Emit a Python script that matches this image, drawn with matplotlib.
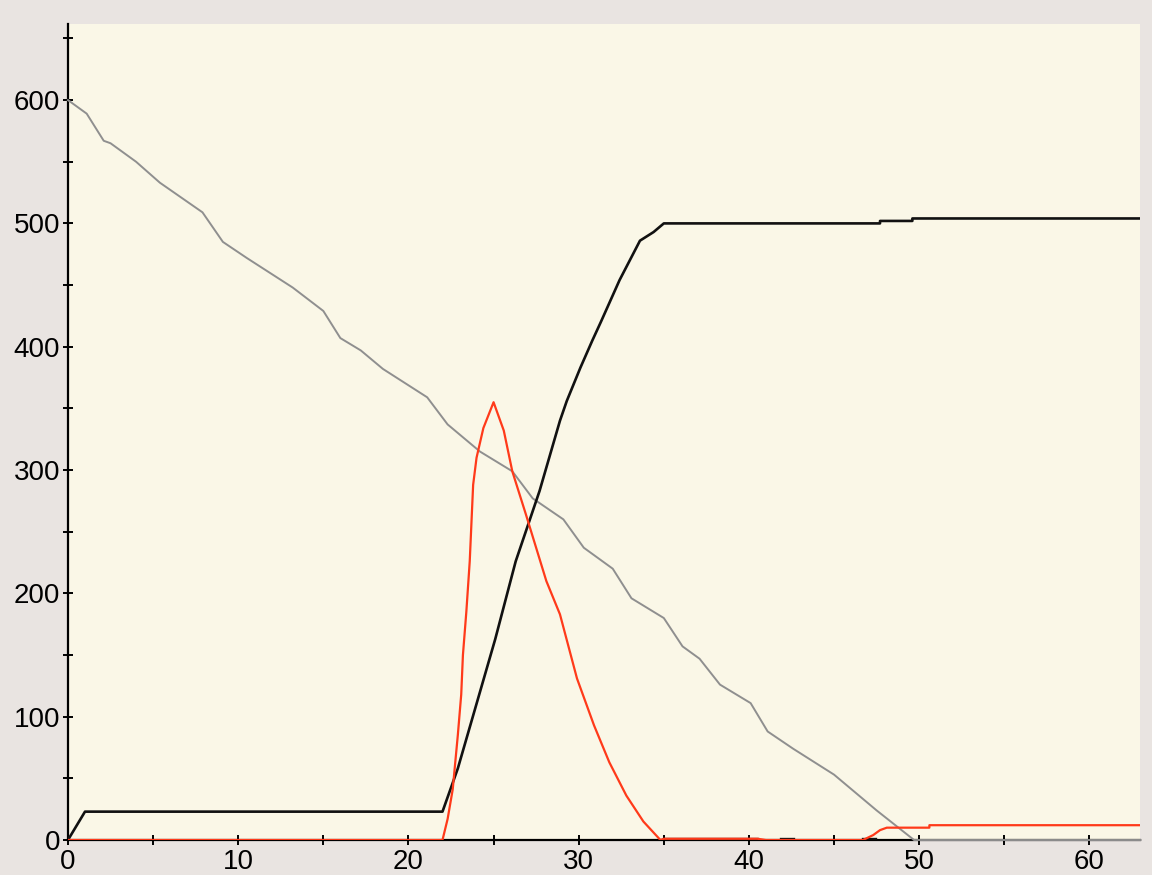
import matplotlib.pyplot as plt
from matplotlib.ticker import MultipleLocator

# black curve (rises to ~500)
black_x = [0, 1, 22, 22.9, 24.2, 25.1, 26.3, 27.7, 28.9, 29.3, 30.1, 30.8, 31.3, 32.4, 33.6, 34.4, 35.0,
           47.7, 47.7, 49.6, 49.6, 63]
black_y = [0, 23, 23, 58, 120, 163, 226, 283, 340, 356, 383, 405, 420, 454, 486, 493, 500,
           500, 502, 502, 504, 504]

# red curve (peak near 25)
red_x = [0, 22, 22.3, 22.6, 22.9, 23.1, 23.2, 23.4, 23.6, 23.8, 24.0, 24.4, 25.0, 25.6, 26.1, 26.9, 28.1, 28.9,
         29.9, 30.9, 31.8, 32.8, 33.8, 34.8, 35.0, 40.5, 41.0, 46.7, 47.3, 47.7, 48.1, 50.6, 50.6, 63]
red_y = [0, 0, 17, 41, 85, 118, 150, 185, 226, 288, 310, 334, 355, 332, 299, 264, 210, 183,
         131, 93, 63, 36, 15, 0, 1, 1, 0, 0, 4, 8, 10, 10, 12, 12]

# grey curve (falls from 600 to 0)
grey_x = [0, 1.1, 2.1, 2.5, 4.0, 5.4, 7.9, 9.1, 10.5, 13.2, 15.0, 16.0, 17.2, 18.5, 21.1, 22.3, 24.2, 26.1, 27.3,
          29.1, 30.3, 32.0, 33.1, 35.0, 36.1, 37.1, 38.3, 40.1, 41.1, 42.6, 45.0, 47.5, 49.7, 63]
grey_y = [600, 589, 567, 565, 550, 533, 509, 485, 472, 448, 429, 407, 397, 382, 359, 337, 315, 299, 277,
          260, 237, 220, 196, 180, 157, 147, 126, 111, 88, 74, 53, 24, 0, 0]

# small dark bits along the bottom (start, end) at value 1
low_segments = [(35.0, 40.5), (41.9, 42.6), (46.7, 47.4)]
low_value = 1

plt.rcParams['font.family'] = ['Liberation Sans', 'DejaVu Sans']

fig = plt.figure(figsize=(11.52, 8.75), dpi=100, facecolor='#e9e4e1')
ax = fig.add_axes([0.059, 0.04, 0.931, 0.933])
ax.set_facecolor('#faf7e7')

ax.plot(grey_x, grey_y, color='#8f8f8f', lw=1.4, zorder=3, clip_on=False)
ax.plot(black_x, black_y, color='#111111', lw=1.9, zorder=4)
for x0, x1 in low_segments:
    ax.plot([x0, x1], [low_value, low_value], color='#111111', lw=2.4, zorder=4)
ax.plot(red_x, red_y, color='#ff3a1a', lw=1.6, zorder=5)

ax.set_xlim(0, 63)
ax.set_ylim(0, 662)
ax.xaxis.set_major_locator(MultipleLocator(10))
ax.xaxis.set_minor_locator(MultipleLocator(5))
ax.yaxis.set_major_locator(MultipleLocator(100))
ax.yaxis.set_minor_locator(MultipleLocator(50))

for s in ['top', 'right']:
    ax.spines[s].set_visible(False)
for s in ['left', 'bottom']:
    ax.spines[s].set_linewidth(1.6)
    ax.spines[s].set_color('black')

ax.tick_params(which='both', direction='inout', length=7, width=1.4, colors='black', labelsize=20, pad=2)
ax.tick_params(axis='x', pad=3)

plt.savefig('out.png', facecolor=fig.get_facecolor())
